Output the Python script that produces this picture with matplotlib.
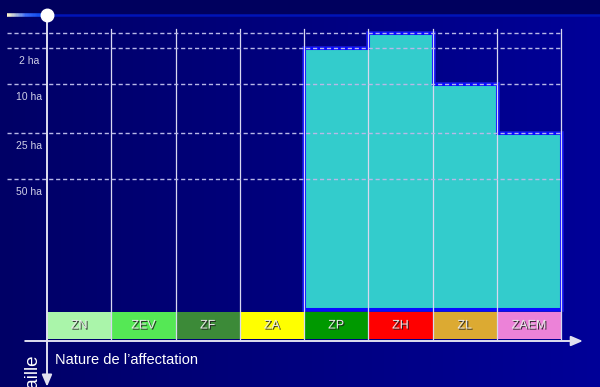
import numpy as np
import matplotlib
matplotlib.use("Agg")
import matplotlib.pyplot as plt
import matplotlib.patheffects as pe
from matplotlib.collections import LineCollection

plt.rcParams['font.family'] = ['Liberation Sans', 'DejaVu Sans']

# zones d'affectation et couleurs du bandeau
zones = ["ZN", "ZEV", "ZF", "ZA", "ZP", "ZH", "ZL", "ZAEM"]
couleurs_zones = ["#aaf5aa", "#55e855", "#3c8a38", "#ffff00",
                  "#009900", "#ff0000", "#dcaa32", "#ec82d8"]

# seuils de taille (axe vertical orienté vers le bas)
seuils = [5.5, 10.1, 21.2, 36.2, 50.3]
libelles_seuils = ["", "2 ha", "10 ha", "25 ha", "50 ha"]

# taille maximale admise par zone (None = pas de barre)
taille_max = [None, None, None, None, 10.1, 5.5, 21.2, 36.2]
base_barres = 90.2

bandeau = (91.1, 99.4)
axe_x = 100.0

fig = plt.figure(figsize=(6, 3.87), dpi=100)
ax = fig.add_axes([0, 0, 1, 1])
ax.set_xlim(-47 / 64.25, 553 / 64.25)
ax.set_ylim(372 / 3.26, -15 / 3.26)
ax.axis('off')

# fond dégradé bleu nuit
grad = np.linspace(0, 1, 256).reshape(1, -1)
fond = matplotlib.colors.LinearSegmentedColormap.from_list("fond", ["#000066", "#000098"])
ax.imshow(grad, cmap=fond, aspect='auto', extent=[*ax.get_xlim(), *ax.get_ylim()], zorder=0)
ax.axhspan(ax.get_ylim()[1], 0, color="#00005e", zorder=0.5, lw=0)

n = len(zones)

# barres en escalier
xs, ys = [], []
for i, t in enumerate(taille_max):
    if t is None:
        continue
    if not xs:
        xs += [i, i]
        ys += [base_barres, t]
    else:
        xs += [i]
        ys += [t]
    xs += [i + 1]
    ys += [t]
xs += [xs[-1], xs[0]]
ys += [base_barres, base_barres]
ax.fill(xs, ys, facecolor="none", edgecolor="#2a2aff", lw=3.4, zorder=1.9, joinstyle='miter', alpha=0.6)
ax.fill(xs, ys, facecolor="#33cccc", edgecolor="#0a0aff", lw=2.2, zorder=2, joinstyle='miter')

# bandeau des zones
for i, (z, c) in enumerate(zip(zones, couleurs_zones)):
    ax.fill_between([i, i + 1], bandeau[0], bandeau[1], color=c, lw=0, zorder=3)
    ax.text(i + 0.5, sum(bandeau) / 2, z, ha='center', va='center', fontsize=9,
            color="#e8e8e8", zorder=6,
            path_effects=[pe.withSimplePatchShadow(offset=(0.8, -0.8), shadow_rgbFace='#202020', alpha=0.9)])

# grille verticale
for i in range(1, n + 1):
    ax.plot([i, i], [4.3, bandeau[1]], color="#d8d8f0", lw=0.9, zorder=4)

# lignes de seuil pointillées et libellés
for s, lib in zip(seuils, libelles_seuils):
    ax.plot([-0.62, n], [s, s], color="#b8b8e8", lw=1.0, ls=(0, (3, 2)), zorder=4)
    if lib:
        ax.text(-0.28, s + 4.1, lib, ha='center', va='center', fontsize=7.5,
                color="#d0d0e8", zorder=5)

# ligne de titre en haut avec dégradé
xg = np.linspace(-0.62, -0.03, 30)
segs = [[(xg[k], 0), (xg[k + 1], 0)] for k in range(len(xg) - 1)]
cols = matplotlib.colors.LinearSegmentedColormap.from_list("t", ["#fff6c8", "#3a6af8", "#0040e8"])(
    np.linspace(0, 1, len(segs)))
ax.add_collection(LineCollection(segs, colors=cols, lw=2.6, zorder=5))
ax.plot([0, 9], [0, 0], color="#0014b8", lw=1.8, zorder=4)
ax.plot([0], [0], marker='o', ms=9, mfc='white', mec='white', zorder=7)

# axes avec flèches
ax.annotate("", xy=(8.34, axe_x), xytext=(-0.34, axe_x),
            arrowprops=dict(arrowstyle="-|>,head_length=0.7,head_width=0.3",
                            color="#e0e0f0", lw=1.4, shrinkA=0, shrinkB=0), zorder=6)
ax.annotate("", xy=(0, 114.0), xytext=(0, 0),
            arrowprops=dict(arrowstyle="-|>,head_length=0.7,head_width=0.3",
                            color="#e0e0f0", lw=1.4, shrinkA=0, shrinkB=0), zorder=6)

ax.text(0.12, 105.9, "Nature de l\u2019affectation", ha='left', va='center',
        fontsize=10.5, color="white", zorder=6)
ax.text(-0.22, 104.0, "Taille", rotation=90, ha='center', va='top',
        fontsize=13.5, color="white", zorder=6)

fig.savefig("out.png", dpi=100)
